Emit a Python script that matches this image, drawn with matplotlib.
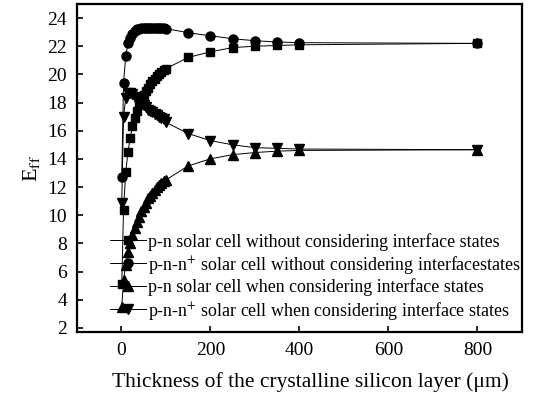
import numpy as np
import matplotlib
matplotlib.use("Agg")
import matplotlib.pyplot as plt

plt.rcParams['font.family'] = ['Liberation Serif', 'DejaVu Serif']
plt.rcParams['mathtext.fontset'] = 'stix'

# thickness (um)
thick = [1, 5, 10, 15, 20, 25, 30, 35, 40, 45, 50, 55, 60, 65, 70, 75, 80, 85, 90, 95, 100,
         150, 200, 250, 300, 350, 400, 800]

pn_no = [5.1, 10.4, 13.1, 14.5, 15.5, 16.3, 16.9, 17.4, 17.8, 18.15, 18.5, 18.8, 19.05, 19.3,
         19.5, 19.7, 19.85, 20.0, 20.15, 20.3, 20.4,
         21.2, 21.6, 21.9, 22.0, 22.05, 22.1, 22.2]
pnn_no = [12.7, 19.4, 21.3, 22.2, 22.6, 22.9, 23.1, 23.2, 23.25, 23.3, 23.3, 23.3, 23.3, 23.3,
          23.3, 23.3, 23.3, 23.3, 23.3, 23.28, 23.25,
          22.96, 22.74, 22.53, 22.39, 22.3, 22.25, 22.2]
pn_is = [3.5, 5.4, 6.5, 7.4, 8.0, 8.6, 9.1, 9.5, 9.9, 10.3, 10.6, 10.9, 11.2, 11.4,
         11.6, 11.8, 12.0, 12.15, 12.3, 12.4, 12.5,
         13.5, 14.0, 14.3, 14.45, 14.55, 14.6, 14.65]
pnn_is = [10.9, 17.0, 18.3, 18.7, 18.7, 18.6, 18.4, 18.25, 18.1, 17.95, 17.8, 17.65, 17.5, 17.4,
          17.3, 17.2, 17.1, 17.0, 16.9, 16.8, 16.6,
          15.8, 15.3, 15.0, 14.8, 14.75, 14.7, 14.65]

labels = ["p-n solar cell without considering interface states",
          "p-n-n$^{+}$ solar cell without considering interfacestates",
          "p-n solar cell when considering interface states",
          "p-n-n$^{+}$ solar cell when considering interface states"]

fig = plt.figure(figsize=(5.37, 3.94), dpi=100)
ax = fig.add_axes([0.143, 0.157, 0.829, 0.833])

ax.plot(thick, pn_no, '-s', color='k', lw=0.7, ms=6, label=labels[0])
ax.plot(thick, pnn_no, '-o', color='k', lw=0.7, ms=6.5, label=labels[1])
ax.plot(thick, pn_is, '-^', color='k', lw=0.7, ms=6.5, label=labels[2])
ax.plot(thick, pnn_is, '-v', color='k', lw=0.7, ms=6.5, label=labels[3])

ax.set_xlim(-100, 900)
ax.set_ylim(1.7, 25)
ax.set_xticks([0, 200, 400, 600, 800])
ax.set_yticks(np.arange(2, 25, 2))
ax.tick_params(direction='in', labelsize=14, width=1.2, length=4, pad=7)
for s in ax.spines.values():
    s.set_linewidth(1.6)

ax.set_xlabel("Thickness of the crystalline silicon layer (\u03bcm)", fontsize=15.5)
ax.xaxis.set_label_coords(0.525, -0.123)
ax.set_ylabel("E$_{\\rm ff}$", fontsize=16, labelpad=4)

ax.legend(loc='lower right', bbox_to_anchor=(1.018, 0.005), frameon=False, fontsize=12.9,
          handlelength=2.0, handletextpad=0.1, labelspacing=0.17, borderaxespad=0.1)

fig.savefig("out.png")
